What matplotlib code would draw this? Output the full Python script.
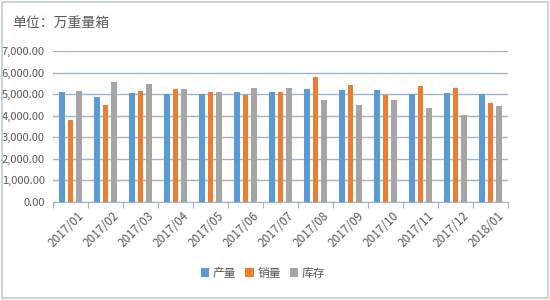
import numpy as np
import matplotlib
matplotlib.use("Agg")
import matplotlib.pyplot as plt
import matplotlib.transforms as mtransforms
from matplotlib.ticker import FuncFormatter
from matplotlib.patches import Rectangle

plt.rcParams['font.family'] = ['Noto Sans CJK SC', 'DejaVu Sans']

months = ["2017/01", "2017/02", "2017/03", "2017/04", "2017/05", "2017/06", "2017/07",
          "2017/08", "2017/09", "2017/10", "2017/11", "2017/12", "2018/01"]
production = [5120, 4880, 5050, 5000, 5000, 5090, 5090, 5250, 5200, 5190, 5020, 5050, 5020]
sales = [3790, 4510, 5140, 5230, 5110, 4950, 5100, 5810, 5430, 4950, 5390, 5290, 4610]
inventory = [5140, 5550, 5490, 5230, 5120, 5280, 5290, 4740, 4510, 4740, 4350, 4050, 4430]

series = [("产量", production, "#5B9BD5"),
          ("销量", sales, "#ED7D31"),
          ("库存", inventory, "#A5A5A5")]

fig = plt.figure(figsize=(5.5, 3.0), dpi=100)
fig.patches.append(Rectangle((0.004, 0.007), 0.992, 0.986, transform=fig.transFigure,
                             fill=False, edgecolor="#BFCBD6", linewidth=1.2))
ax = fig.add_axes([53 / 550, 1 - 202 / 300, 455 / 550, 151 / 300])

x = np.arange(len(months))
w = 0.17
step = 0.24
for i, (name, vals, col) in enumerate(series):
    ax.bar(x + (i - 1) * step, vals, width=w, color=col, label=name, zorder=3)

ax.set_xlim(-0.5, len(months) - 0.5)
ax.set_ylim(0, 7000)
ax.set_yticks(np.arange(0, 7001, 1000))
ax.yaxis.set_major_formatter(FuncFormatter(lambda v, p: f"{v:,.2f}"))
ax.grid(axis="y", color="#9FB4C9", linewidth=1.0, zorder=0)
for s in ["top", "right", "left"]:
    ax.spines[s].set_visible(False)
ax.spines["bottom"].set_color("#9FB4C9")
ax.tick_params(axis="y", length=0, labelsize=8, labelcolor="#595959", pad=6)

ax.set_xticks(np.arange(len(months) + 1) - 0.5, minor=False)
ax.set_xticklabels([])
ax.tick_params(axis="x", which="major", length=4, color="#9FB4C9", direction="out")
ax.set_xticks(x, minor=True)
ax.set_xticklabels(months, minor=True, rotation=45, ha="right", rotation_mode="anchor")
ax.tick_params(axis="x", which="minor", length=0, labelsize=8.5, labelcolor="#595959", pad=5)
offset = mtransforms.ScaledTranslation(7 / 100, 0, fig.dpi_scale_trans)
for lbl in ax.get_xticklabels(minor=True):
    lbl.set_transform(lbl.get_transform() + offset)

fig.text(12 / 550, 1 - 23 / 300, "单位：万重量箱", fontsize=10, color="#595959", va="center")

leg = fig.legend(loc="center", bbox_to_anchor=(263 / 550, 1 - 273 / 300), ncol=3, frameon=False,
                 fontsize=8.5, handlelength=0.7, handleheight=0.7, handletextpad=0.3,
                 columnspacing=0.8)
for t in leg.get_texts():
    t.set_color("#595959")

fig.savefig("out.png", dpi=100)
